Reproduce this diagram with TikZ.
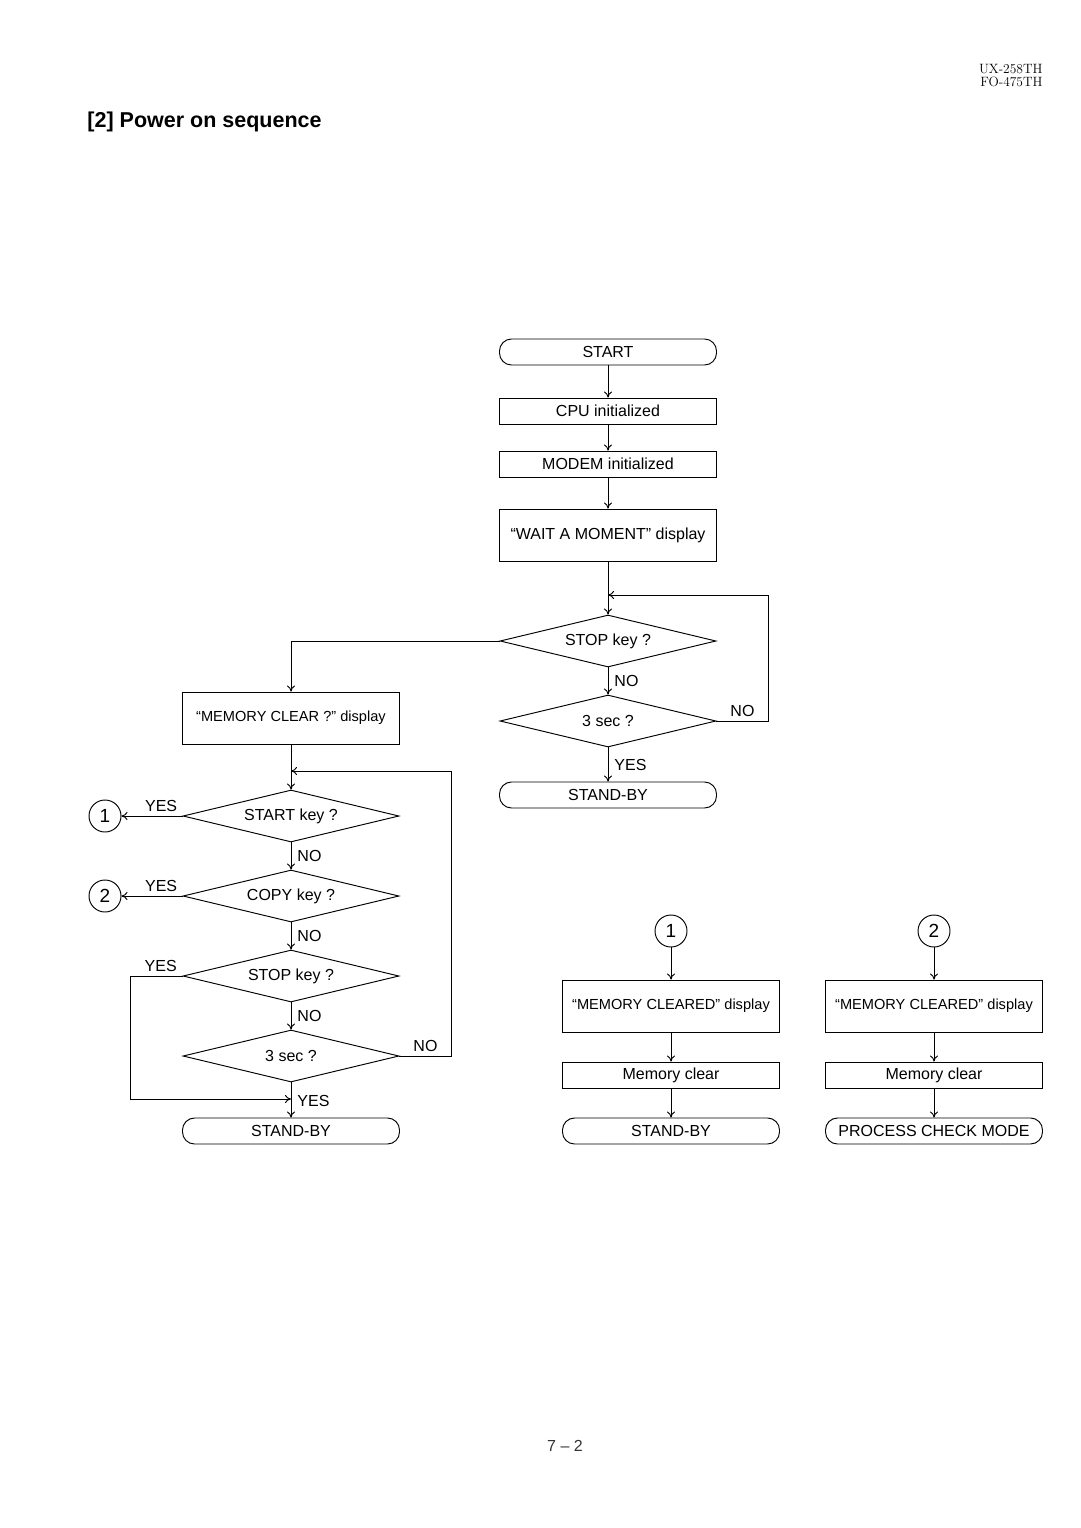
\documentclass[tikz,border=0pt]{standalone}
\usepackage{fontspec}
\newfontfamily\arialfont[Ligatures=TeX]{Liberation Sans}
\usetikzlibrary{shapes.geometric}
\usetikzlibrary{arrows.meta}

\begin{document}
\begin{tikzpicture}[x=1pt,y=-1pt,line width=0.95pt,
  every node/.style={font=\arialfont\fontsize{16}{19}\selectfont},
  procbox/.style={draw,rectangle,minimum width=217pt,minimum height=26pt,inner sep=0pt},
  tallbox/.style={procbox,minimum height=52pt},
  termbox/.style={draw,rectangle,rounded corners=12pt,minimum width=217pt,minimum height=26pt,inner sep=0pt},
  askbox/.style={draw,diamond,aspect=4,minimum width=216pt,minimum height=52pt,inner sep=0pt},
  conn/.style={draw,circle,minimum size=32pt,inner sep=0pt,font=\arialfont\fontsize{19}{20}\selectfont},
  squeeze/.style={font=\arialfont\fontsize{14.6}{17}\selectfont},
  arr/.style={-{To[length=6pt,width=8pt]}},
  lbl/.style={inner sep=4pt}]
\path[use as bounding box] (0,0) rectangle (1080,1528);

% page head
\node[anchor=north east,align=right,inner sep=0pt,font=\rmfamily\fontsize{13.5}{13}\selectfont] (head) at (1043,64) {UX-258TH\\FO-475TH};
\node[anchor=west,inner sep=0pt,font=\arialfont\bfseries\fontsize{21.5}{24}\selectfont] (title) at (87,122) {[2] Power on sequence};
\node[text=black!80] (pageno) at (565,1446) {7 – 2};

% main column
\node[termbox] (start) at (608,352) {START};
\node[procbox] (cpu) at (608,411) {CPU initialized};
\node[procbox] (modem) at (608,464) {MODEM initialized};
\node[tallbox] (wait) at (608,535) {“WAIT A MOMENT” display};
\node[askbox] (stopA) at (608,641) {STOP key ?};
\node[askbox] (secA) at (608,721) {3 sec ?};
\node[termbox] (standA) at (608,795) {STAND-BY};
\coordinate (loopA) at (608,595);

% memory clear column
\node[tallbox,squeeze] (memq) at (291,718) {“MEMORY CLEAR ?” display};
\node[askbox] (startk) at (291,816) {START key ?};
\node[askbox] (copyk) at (291,896) {COPY key ?};
\node[askbox] (stopB) at (291,976) {STOP key ?};
\node[askbox] (secB) at (291,1056) {3 sec ?};
\node[termbox] (standB) at (291,1131) {STAND-BY};
\node[conn] (conA) at (105,816) {1};
\node[conn] (conB) at (105,896) {2};
\coordinate (loopB) at (291,771);
\coordinate (joinB) at (291,1099);

% connector 1 and 2
\node[conn] (conAr) at (671,931) {1};
\node[tallbox,squeeze] (clearA) at (671,1006) {“MEMORY CLEARED” display};
\node[procbox] (memA) at (671,1075) {Memory clear};
\node[termbox] (standC) at (671,1131) {STAND-BY};
\node[conn] (conBr) at (934,931) {2};
\node[tallbox,squeeze] (clearB) at (934,1006) {“MEMORY CLEARED” display};
\node[procbox] (memB) at (934,1075) {Memory clear};
\node[termbox] (pcm) at (934,1131) {PROCESS CHECK MODE};

\draw[arr] (start) -- (cpu);
\draw[arr] (cpu) -- (modem);
\draw[arr] (modem) -- (wait);
\draw[arr] (wait) -- (stopA);
\draw[arr] (stopA) -- node[lbl,right,xshift=2pt] {NO} (secA);
\draw[arr] (secA) -- node[lbl,right,xshift=2pt] {YES} (standA);
\draw[arr] (secA.east) -- node[lbl,above] {NO} ++(52,0) |- (loopA);
\draw[arr] (stopA.west) -| (memq);

\draw[arr] (memq) -- (startk);
\draw[arr] (startk.west) -- node[lbl,above,pos=0.35] {YES} (conA);
\draw[arr] (startk) -- node[lbl,right,xshift=2pt] {NO} (copyk);
\draw[arr] (copyk.west) -- node[lbl,above,pos=0.35] {YES} (conB);
\draw[arr] (copyk) -- node[lbl,right,xshift=2pt] {NO} (stopB);
\draw[arr] (stopB) -- node[lbl,right,xshift=2pt] {NO} (secB);
\draw[arr] (stopB.west) -- node[lbl,above,pos=0.42] {YES} ++(-52,0) |- (joinB);
\draw[arr] (secB) -- node[lbl,right,xshift=2pt,yshift=-1pt] {YES} (standB);
\draw[arr] (secB.east) -- node[lbl,above] {NO} ++(52,0) |- (loopB);

\draw[arr] (conAr) -- (clearA);
\draw[arr] (clearA) -- (memA);
\draw[arr] (memA) -- (standC);
\draw[arr] (conBr) -- (clearB);
\draw[arr] (clearB) -- (memB);
\draw[arr] (memB) -- (pcm);
\end{tikzpicture}
\end{document}
